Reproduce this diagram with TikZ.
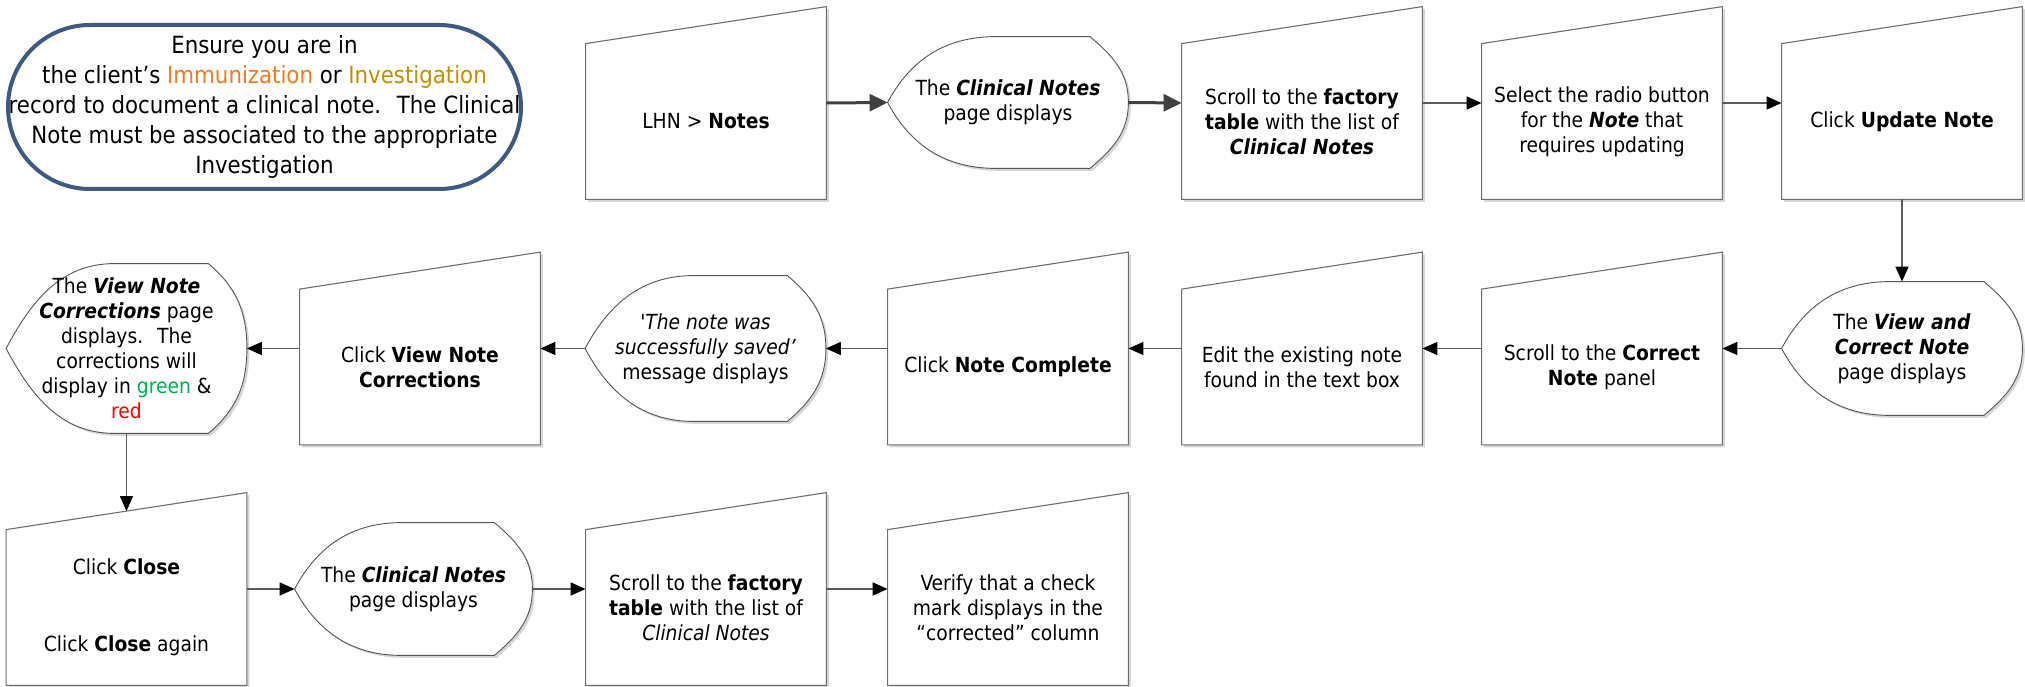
\documentclass[tikz,border=0pt]{standalone}
\usepackage{fontspec}
\setmainfont{DejaVu Sans Condensed}[BoldFont={DejaVu Sans Condensed Bold}, ItalicFont={DejaVu Sans Condensed Oblique}, BoldItalicFont={DejaVu Sans Condensed Bold Oblique}]
\usepackage{xcolor}
\usetikzlibrary{arrows.meta,calc,backgrounds}
\definecolor{frameblue}{HTML}{3E5A80}
\definecolor{immorange}{HTML}{F07B24}
\definecolor{invgold}{HTML}{BF9000}
\definecolor{okgreen}{HTML}{00B050}
\definecolor{errred}{HTML}{FF0000}
\definecolor{edge}{HTML}{6E6E6E}
\definecolor{dispedge}{HTML}{555555}
\definecolor{shade}{HTML}{D6D6D6}
\definecolor{flowline}{HTML}{5A5A5A}
\definecolor{heavyline}{HTML}{404040}
\newcommand{\stepfont}{\fontsize{10.4pt}{12.5pt}\selectfont}
\newcommand{\introfont}{\fontsize{11.85pt}{15pt}\selectfont}
\newcommand{\boldit}[1]{\textbf{\textit{#1}}}
\tikzset{
  manualbox/.style={minimum width=120pt, minimum height=77.5pt, inner sep=1pt, align=center, font=\stepfont},
  displaybox/.style={minimum width=120pt, inner sep=1pt, align=center, font=\stepfont},
  introbox/.style={draw=frameblue, line width=2pt, rounded corners=41pt, minimum width=256.5pt, minimum height=82pt, inner sep=0pt, align=center, font=\introfont},
  boxline/.style={draw=edge, line width=0.55pt, fill=white, preaction={fill=shade, transform canvas={xshift=1.2pt, yshift=-1.2pt}}},
  displine/.style={draw=dispedge, line width=0.45pt, fill=white, preaction={fill=shade, transform canvas={xshift=1.2pt, yshift=-1.2pt}}},
  heavyarrow/.style={-{Triangle[length=9pt,width=8.5pt]}, line width=1.5pt, draw=heavyline},
  flowarrow/.style={-{Triangle[length=7.5pt,width=6.5pt,color=black]}, line width=0.75pt, draw=flowline}
}
\begin{document}
\begin{tikzpicture}[x=0.5pt, y=0.5pt]
  \useasboundingbox (0,0) rectangle (2025,686);
  \node[introbox] (intro) at (264.5,579) {Ensure you are in\\the client’s \textcolor{immorange}{Immunization} or \textcolor{invgold}{Investigation}\\record to document a clinical note.~ The Clinical\\Note must be associated to the appropriate\\Investigation};
  \node[manualbox] (lhn) at (706,564.5) {LHN > \textbf{Notes}};
  \node[displaybox, minimum height=65.5pt] (notesdisp) at (1008,583.5) {The \boldit{Clinical Notes}\\page displays};
  \node[manualbox] (factorytab) at (1302,564.5) {Scroll to the \textbf{factory}\\\textbf{table} with the list of\\\boldit{Clinical Notes}};
  \node[manualbox] (radiosel) at (1602,564.5) {Select the radio button\\for the \boldit{Note} that\\requires updating};
  \node[manualbox] (updnote) at (1902,564.5) {Click \textbf{Update Note}};
  \node[displaybox, minimum height=66.5pt] (vcdisp) at (1902,337.5) {The \boldit{View and}\\\boldit{Correct Note}\\page displays};
  \node[manualbox] (correctpanel) at (1602,319) {Scroll to the \textbf{Correct}\\\textbf{Note} panel};
  \node[manualbox] (editnote) at (1302,319) {Edit the existing note\\found in the text box};
  \node[manualbox] (notecomplete) at (1008,319) {Click \textbf{Note Complete}};
  \node[displaybox, minimum height=72.5pt] (savedmsg) at (705.5,337.5) {\textit{\textquotesingle The note was}\\\textit{successfully saved’}\\message displays};
  \node[manualbox] (clickvnc) at (420,319) {Click \textbf{View Note}\\\textbf{Corrections}};
  \node[displaybox, minimum height=84.5pt] (vncdisp) at (126.5,337.5) {The \boldit{View Note}\\\boldit{Corrections} page\\displays.~ The\\corrections will\\display in \textcolor{okgreen}{green} \&\\\textcolor{errred}{red}};
  \node[manualbox] (closebtn) at (126.5,78.5) {Click \textbf{Close}\\[26pt]Click \textbf{Close} again};
  \node[displaybox, minimum height=66pt, minimum width=118.5pt] (notesdispb) at (413.5,97) {The \boldit{Clinical Notes}\\page displays};
  \node[manualbox] (factorytabb) at (706,78.5) {Scroll to the \textbf{factory}\\\textbf{table} with the list of\\\textit{Clinical Notes}};
  \node[manualbox] (verifymark) at (1008,78.5) {Verify that a check\\mark displays in the\\“corrected” column};
  \begin{scope}[on background layer]
    \fill[white] (0,0) rectangle (2025,686);
    \foreach \n in {lhn,factorytab,radiosel,updnote,correctpanel,editnote,notecomplete,clickvnc,closebtn,factorytabb,verifymark}
      \draw[boxline] (\n.south west) -- (\n.north west) -- ([yshift=18.5pt]\n.north east) -- (\n.south east) -- cycle;
    \foreach \n in {notesdisp,vcdisp,savedmsg,vncdisp,notesdispb}
      \draw[displine] (\n.west) to[out=62,in=180] ($(\n.north west)!0.45!(\n.north east)$) -- ($(\n.north west)!0.84!(\n.north east)$) to[out=-40,in=90] (\n.east) to[out=-90,in=40] ($(\n.south west)!0.84!(\n.south east)$) -- ($(\n.south west)!0.45!(\n.south east)$) to[out=180,in=-62] (\n.west) -- cycle;
  \end{scope}
  \draw[heavyarrow] ([yshift=9.25pt]lhn.east) -- (notesdisp.west);
  \draw[heavyarrow] (notesdisp.east) -- ([yshift=9.25pt]factorytab.west);
  \draw[flowarrow] ([yshift=9.25pt]factorytab.east) -- ([yshift=9.25pt]radiosel.west);
  \draw[flowarrow] ([yshift=9.25pt]radiosel.east) -- ([yshift=9.25pt]updnote.west);
  \draw[flowarrow] (updnote.south) -- (vcdisp.north);
  \draw[flowarrow] (vcdisp.west) -- ([yshift=9.25pt]correctpanel.east);
  \draw[flowarrow] ([yshift=9.25pt]correctpanel.west) -- ([yshift=9.25pt]editnote.east);
  \draw[flowarrow] ([yshift=9.25pt]editnote.west) -- ([yshift=9.25pt]notecomplete.east);
  \draw[flowarrow] ([yshift=9.25pt]notecomplete.west) -- (savedmsg.east);
  \draw[flowarrow] (savedmsg.west) -- ([yshift=9.25pt]clickvnc.east);
  \draw[flowarrow] ([yshift=9.25pt]clickvnc.west) -- (vncdisp.east);
  \draw[flowarrow] (vncdisp.south) -- ([yshift=9.25pt]closebtn.north);
  \draw[flowarrow] ([yshift=9.25pt]closebtn.east) -- (notesdispb.west);
  \draw[flowarrow] (notesdispb.east) -- ([yshift=9.25pt]factorytabb.west);
  \draw[flowarrow] ([yshift=9.25pt]factorytabb.east) -- ([yshift=9.25pt]verifymark.west);
\end{tikzpicture}
\end{document}
